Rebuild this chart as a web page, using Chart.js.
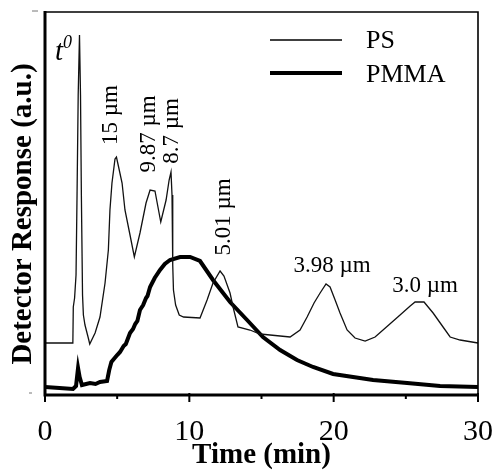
<!DOCTYPE html>
<html>
<head>
<meta charset="utf-8">
<script src="https://cdn.jsdelivr.net/npm/chart.js@4/dist/chart.umd.min.js"></script>
<style>
  html, body { margin: 0; padding: 0; background: #fff; }
  canvas { display: block; }
</style>
</head>
<body>
<canvas id="c" width="496" height="473"></canvas>
<script>
// Elution times (min) and detector signal (a.u.) for the PS bead mixture
const psTime = [0, 1.93, 1.96, 2.05, 2.15, 2.22, 2.3, 2.39, 2.46, 2.52, 2.6, 2.66, 2.77, 3.0, 3.1,
  3.47, 3.81, 4.16, 4.39, 4.5, 4.64, 4.85, 4.95, 5.1, 5.34, 5.54, 5.89, 6.19, 6.58, 7.0, 7.28,
  7.62, 7.8, 8.02, 8.39, 8.6, 8.73, 8.8, 8.85, 8.9, 9.05, 9.3, 9.6, 10.74, 11.23, 11.64, 12.13,
  12.4, 12.82, 13.03, 13.37, 14.2, 14.9, 16.98, 17.67, 18.16, 18.64, 19.06, 19.47, 19.75, 20.1,
  20.44, 20.93, 21.48, 22.18, 22.87, 23.42, 24.05, 24.6, 25.3, 25.64, 26.26, 26.89, 27.58, 28.07,
  28.76, 30];
const psSignal = [52, 52, 88, 97, 120, 200, 300, 360, 300, 200, 100, 80, 70, 57, 51,
  62, 78, 112, 145, 185, 212, 236, 238, 228, 212, 185, 160, 138, 162, 192, 205,
  204, 190, 173, 195, 215, 223, 200, 130, 105, 90, 80, 78, 77, 95, 112, 124,
  119, 102, 88, 68, 65, 61, 58, 65, 78, 92, 102, 111, 108, 95,
  82, 65, 57, 54, 58, 65, 73, 80, 89, 93, 93, 82, 68, 58,
  55, 52];

// Elution times (min) and detector signal (a.u.) for PMMA
const pmmaTime = [0, 1.0, 1.94, 2.15, 2.29, 2.4, 2.56, 3.12, 3.5, 3.81, 4.3, 4.45, 4.6, 5.0, 5.2,
  5.45, 5.6, 5.89, 6.1, 6.25, 6.4, 6.58, 6.8, 7.0, 7.1, 7.28, 7.6, 7.97, 8.3, 8.66, 9.36, 10.05,
  10.74, 11.64, 12.82, 14.0, 15.1, 16.29, 17.46, 18.57, 19.96, 22.73, 25.09, 27.37, 30];
const pmmaSignal = [8, 7, 6, 9, 27, 18, 10, 12, 11, 13, 14, 25, 33, 40, 43,
  49, 51, 62, 66, 71, 74, 85, 90, 97, 99, 108, 117, 125, 131, 135, 138, 138,
  134, 115, 93, 75, 58, 45, 35, 28, 21, 15, 12, 9, 8];

// Axis tick values
const majorTicks = [0, 10, 20, 30];
const minorTicks = [5, 15, 25];

// Peak labels (particle diameters)
const peakLabels = ['15 µm', '9.87 µm', '8.7 µm', '5.01 µm', '3.98 µm', '3.0 µm'];
const peakLabelTime = [4.99, 7.62, 9.22, 12.82, 19.89, 26.33];
const peakLabelSignal = [280, 261, 264, 178, 123, 103];
const peakLabelVertical = [true, true, true, true, false, false];

const seriesNames = ['PS', 'PMMA'];

const toPoints = (xs, ys) => xs.map((t, i) => ({ x: t, y: ys[i] }));
const SERIF = "'Liberation Serif', 'Times New Roman', serif";

const decorations = {
  id: 'decorations',
  afterDraw(chart) {
    const { ctx, chartArea: a, scales: { x, y } } = chart;
    ctx.save();
    ctx.strokeStyle = '#000';
    ctx.fillStyle = '#000';

    // frame
    ctx.lineWidth = 1.6;
    ctx.beginPath();
    ctx.moveTo(a.left, a.top); ctx.lineTo(a.right, a.top); ctx.lineTo(a.right, a.bottom);
    ctx.stroke();
    ctx.lineWidth = 3;
    ctx.beginPath();
    ctx.moveTo(a.left, a.top - 1); ctx.lineTo(a.left, a.bottom); ctx.lineTo(a.right + 1, a.bottom);
    ctx.stroke();

    // small stubs left of the signal axis
    ctx.lineWidth = 1;
    ctx.strokeStyle = '#777';
    ctx.beginPath(); ctx.moveTo(a.left - 13, a.top - 1); ctx.lineTo(a.left - 7, a.top - 1); ctx.stroke();
    ctx.beginPath(); ctx.moveTo(a.left - 16, a.bottom - 2); ctx.lineTo(a.left - 13, a.bottom - 2); ctx.stroke();
    ctx.strokeStyle = '#000';

    // tick marks on the time axis
    ctx.lineWidth = 2;
    majorTicks.forEach(v => {
      const px = x.getPixelForValue(v);
      ctx.beginPath(); ctx.moveTo(px, a.bottom - 2); ctx.lineTo(px, a.bottom + 7); ctx.stroke();
    });
    minorTicks.forEach(v => {
      const px = x.getPixelForValue(v);
      ctx.beginPath(); ctx.moveTo(px, a.bottom - 1); ctx.lineTo(px, a.bottom + 4); ctx.stroke();
    });

    // y-axis title
    ctx.font = 'bold 29px ' + SERIF;
    ctx.textAlign = 'center';
    ctx.textBaseline = 'alphabetic';
    ctx.save();
    ctx.translate(31, 214);
    ctx.rotate(-Math.PI / 2);
    ctx.fillText('Detector Response (a.u.)', 0, 0);
    ctx.restore();

    // t0 marker
    const tx = x.getPixelForValue(0.69), ty = y.getPixelForValue(335);
    ctx.textAlign = 'left';
    ctx.font = 'italic 29px ' + SERIF;
    ctx.fillText('t', tx, ty);
    ctx.font = 'italic 18px ' + SERIF;
    ctx.fillText('0', tx + 8, ty - 12);

    // peak labels
    ctx.font = '23px ' + SERIF;
    ctx.textAlign = 'center';
    peakLabels.forEach((txt, i) => {
      const px = x.getPixelForValue(peakLabelTime[i]);
      const py = y.getPixelForValue(peakLabelSignal[i]);
      ctx.save();
      ctx.translate(px, py);
      if (peakLabelVertical[i]) ctx.rotate(-Math.PI / 2);
      ctx.fillText(txt, 0, 0);
      ctx.restore();
    });

    // legend
    ctx.font = '26px ' + SERIF;
    ctx.textAlign = 'left';
    chart.data.datasets.forEach((ds, i) => {
      const ly = 40 + i * 33;
      ctx.lineWidth = ds.borderWidth;
      ctx.beginPath(); ctx.moveTo(270, ly); ctx.lineTo(342, ly); ctx.stroke();
      ctx.fillText(ds.label, 366, ly + 8 + i);
    });
    ctx.restore();
  }
};

new Chart(document.getElementById('c'), {
  type: 'line',
  data: {
    datasets: [
      { label: seriesNames[0], data: toPoints(psTime, psSignal), borderColor: '#111', borderWidth: 1.3,
        pointRadius: 0, tension: 0, fill: false },
      { label: seriesNames[1], data: toPoints(pmmaTime, pmmaSignal), borderColor: '#000', borderWidth: 4,
        pointRadius: 0, tension: 0, fill: false }
    ]
  },
  options: {
    responsive: false,
    animation: false,
    devicePixelRatio: 1,
    layout: { padding: { left: 45, right: 18, top: 12, bottom: 2 } },
    plugins: { legend: { display: false }, tooltip: { enabled: false } },
    scales: {
      x: {
        type: 'linear', min: 0, max: 30,
        grid: { display: false, drawTicks: false },
        border: { display: false },
        ticks: { stepSize: 10, color: '#000', padding: 22, maxRotation: 0,
          font: { family: SERIF, size: 30, lineHeight: 1 } },
        title: { display: true, text: 'Time (min)', color: '#000',
          font: { family: SERIF, size: 29, weight: 'bold', lineHeight: 0.8 },
          padding: { top: 0, bottom: 4 } },
        afterFit(axis) {
          axis.height = 76;
          axis.paddingLeft = 0;
          axis.paddingRight = 0;
        }
      },
      y: { display: false, min: 0, max: 383 }
    }
  },
  plugins: [decorations]
});
</script>
</body>
</html>
